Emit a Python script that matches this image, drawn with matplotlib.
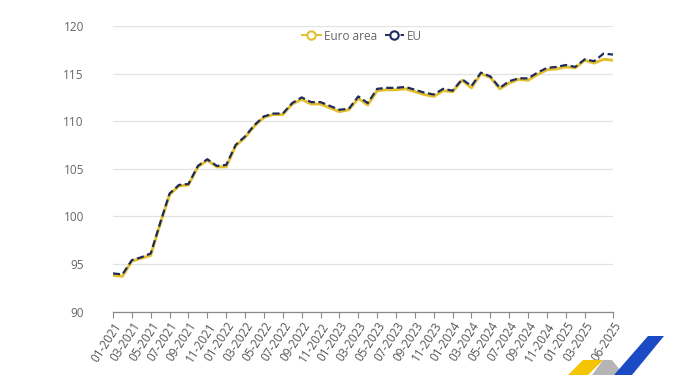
#!/usr/bin/env python3
"""Monthly index, euro area vs EU, 01-2021 to 06-2025."""

import matplotlib
matplotlib.use("Agg")
import matplotlib.pyplot as plt
from matplotlib.lines import Line2D
from matplotlib.patches import Polygon
import numpy as np
import pandas as pd

MONTHS = pd.date_range("2021-01-01", periods=54, freq="MS").strftime("%m-%Y").tolist()

EURO_AREA = [
  93.8, 93.7, 95.3, 95.6, 95.9, 99.2, 102.3, 103.2, 103.3, 105.2,
  105.9, 105.2, 105.2, 107.4, 108.3, 109.5, 110.4, 110.7, 110.7, 111.8,
  112.3, 111.8, 111.8, 111.4, 111.0, 111.2, 112.4, 111.7, 113.2, 113.3,
  113.3, 113.4, 113.1, 112.8, 112.6, 113.2, 113.1, 114.3, 113.5, 115.0,
  114.6, 113.4, 114.0, 114.4, 114.3, 114.9, 115.4, 115.5, 115.7, 115.6,
  116.4, 116.1, 116.5, 116.4,
]
EU = [
  94.0, 93.9, 95.4, 95.7, 96.1, 99.3, 102.4, 103.3, 103.4, 105.3,
  106.0, 105.3, 105.4, 107.5, 108.4, 109.6, 110.5, 110.8, 110.8, 111.9,
  112.5, 112.0, 112.0, 111.6, 111.2, 111.3, 112.6, 111.9, 113.4, 113.5,
  113.5, 113.6, 113.3, 113.0, 112.8, 113.4, 113.2, 114.4, 113.7, 115.1,
  114.7, 113.5, 114.2, 114.5, 114.5, 115.1, 115.6, 115.7, 115.9, 115.7,
  116.5, 116.3, 117.1, 117.0,
]
TICK_LABELS = [
  "01-2021", "03-2021", "05-2021", "07-2021", "09-2021", "11-2021",
  "01-2022", "03-2022", "05-2022", "07-2022", "09-2022", "11-2022",
  "01-2023", "03-2023", "05-2023", "07-2023", "09-2023", "11-2023",
  "01-2024", "03-2024", "05-2024", "07-2024", "09-2024", "11-2024",
  "01-2025", "03-2025", "06-2025",
]
Y_TICKS = [90, 95, 100, 105, 110, 115, 120]

YELLOW = "#E2BF2C"
NAVY = "#1E2B5E"
GREY_TEXT = "#666666"

plt.rcParams["font.family"] = ["Open Sans", "DejaVu Sans"]

fig = plt.figure(figsize=(6.8, 3.75), dpi=100)
ax = fig.add_axes([113 / 680, 1 - 311.5 / 375, 500 / 680, 285.5 / 375])

x = np.arange(len(MONTHS))
ax.plot(x, EURO_AREA, color=YELLOW, linewidth=2.1, solid_capstyle="round", zorder=2)
ax.plot(x, EU, color=NAVY, linewidth=1.6, linestyle=(0, (3.2, 1.6)), zorder=3)

ax.set_xlim(0, len(MONTHS) - 1)
ax.set_ylim(90, 120)
ax.set_yticks(Y_TICKS)
ax.set_yticklabels([str(v) for v in Y_TICKS])
ax.set_xticks([MONTHS.index(lbl) for lbl in TICK_LABELS])
ax.set_xticklabels(TICK_LABELS, rotation=57, ha="right", rotation_mode="anchor")

ax.grid(True, axis="y", color="#e3e3e3", linewidth=0.9)
ax.set_axisbelow(True)
for side in ("top", "right", "left"):
  ax.spines[side].set_visible(False)
ax.spines["bottom"].set_color("#8a8a8a")
ax.spines["bottom"].set_linewidth(0.9)
ax.tick_params(axis="y", length=0, pad=21, labelsize=8.5, labelcolor=GREY_TEXT)
ax.tick_params(axis="x", length=4, color="#8a8a8a", width=0.8, pad=2,
               labelsize=8.5, labelcolor="#555555")

handles = [
  Line2D([], [], color=YELLOW, linewidth=1.4, marker="o", markersize=6,
         markerfacecolor="white", markeredgecolor=YELLOW, markeredgewidth=1.5),
  Line2D([], [], color=NAVY, linewidth=1.4, linestyle=(0, (2.5, 1.5)), marker="o",
         markersize=6, markerfacecolor="white", markeredgecolor=NAVY, markeredgewidth=1.5),
]
fig.legend(handles, ["Euro area", "EU"], loc="center", bbox_to_anchor=(362 / 680, 1 - 36 / 375),
           ncol=2, frameon=False, fontsize=8.5, labelcolor=GREY_TEXT,
           handlelength=1.6, handletextpad=0.3, columnspacing=0.6)

# corner logo
W, H = 680, 375
def fig_poly(points, color):
  fig.patches.append(Polygon([(px / W, 1 - py / H) for px, py in points], closed=True,
                             facecolor=color, edgecolor="none", transform=fig.transFigure))

fig_poly([(583, 360), (603, 360), (588, 375), (568, 375)], "#F5C400")
fig_poly([(603, 360), (612, 360), (624, 375), (592, 375)], "#B5B5B5")
fig_poly([(648, 336), (664, 336), (632, 375), (614, 375)], "#1A4BC4")

fig.savefig("out.png", dpi=100)
